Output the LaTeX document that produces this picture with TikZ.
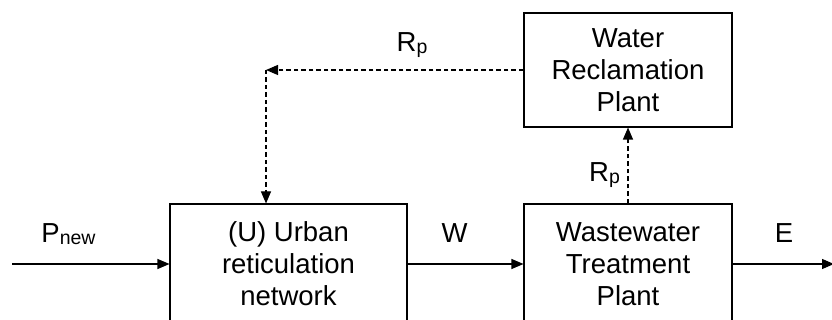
\documentclass[tikz,border=0pt]{standalone}
\usepackage{fontspec}
\setmainfont{Liberation Sans}
\usetikzlibrary{arrows.meta}
\newcommand{\lowsub}[1]{\raisebox{-1.5pt}{\fontsize{19.5}{20}\selectfont #1}}
\tikzset{
  plant/.style={draw, line width=1.1pt, align=center, inner sep=0pt,
    font=\fontsize{27.5}{32}\selectfont},
  flow/.style={line width=1.1pt, -{Triangle[length=12pt,width=10pt]}},
  reuse/.style={flow, dash pattern=on 4.5pt off 3pt},
  tag/.style={anchor=base, inner sep=0pt, font=\fontsize{27.5}{32}\selectfont}
}
\begin{document}
\begin{tikzpicture}[x=1pt,y=-1pt]%water balance
\useasboundingbox (0,0) rectangle (832,320);
\clip (0,0) rectangle (832,320);
\node[plant, minimum width=237pt, minimum height=120pt] (urban) at (288.5,264) {(U) Urban\\reticulation\\network};
\node[plant, minimum width=208pt, minimum height=120pt] (wwtp) at (628,264) {Wastewater\\Treatment\\Plant};
\node[plant, minimum width=208pt, minimum height=114pt] (wrp) at (628,70) {Water\\Reclamation\\Plant};
\coordinate (in) at (12,264);
\coordinate (out) at (834,264);
\coordinate (bend) at (266,70);
%main flows
\draw[flow] (in) -- (urban.west);
\draw[flow] (urban.east) -- (wwtp.west);
\draw[flow] (wwtp.east) -- (out);
%recycled water
\draw[reuse] (wwtp.north) -- (wrp.south);
\draw[reuse] (wrp.west) -- (bend);
\draw[reuse] (bend) -- (bend |- urban.north);
\node[tag] (pnew) at (68.5,243) {P\lowsub{new}};
\node[tag] (w) at (454.5,243) {W};
\node[tag] (e) at (784,243) {E};
\node[tag] (rptop) at (412,52) {R\lowsub{p}};
\node[tag] (rpmid) at (604.5,182) {R\lowsub{p}};
\end{tikzpicture}
\end{document}
